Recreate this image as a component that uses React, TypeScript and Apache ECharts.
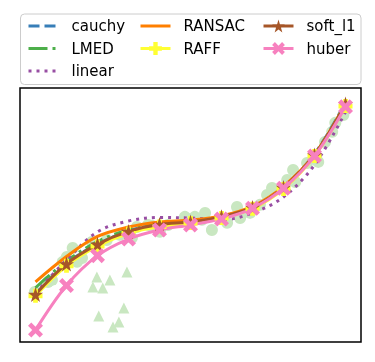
import React, { useEffect, useRef } from "react";
import * as echarts from "echarts";

// x positions of the fitted curves
const xs = [0, 1, 2, 3, 4, 5, 6, 7, 8, 9, 10];

// fitted model values
const cauchy = [1.58, 2.9, 3.74, 4.3, 4.6, 4.72, 4.94, 5.35, 6.22, 7.65, 9.85];
const lmed = [1.85, 3.0, 3.85, 4.35, 4.62, 4.75, 4.93, 5.33, 6.2, 7.6, 9.8];
const linear = [1.62, 3.05, 4.27, 4.74, 4.89, 4.87, 4.79, 5.09, 5.78, 7.17, 9.46];
const ransac = [2.1, 3.2, 4.07, 4.48, 4.7, 4.78, 4.96, 5.37, 6.24, 7.62, 9.83];
const raff = [1.5, 2.8, 3.65, 4.2, 4.5, 4.65, 4.87, 5.27, 6.13, 7.55, 9.72];
const softL1 = [1.56, 2.88, 3.73, 4.29, 4.59, 4.7, 4.92, 5.33, 6.19, 7.6, 9.81];
const huber = [0.02, 1.95, 3.24, 3.96, 4.35, 4.57, 4.83, 5.29, 6.16, 7.56, 9.69];

// observed data (inliers)
const inlierX = [-0.02, 0.4, 0.53, 0.88, 1.01, 1.2, 1.34, 1.5, 1.82, 2.3, 2.72, 3.11, 3.27, 3.63, 3.76, 4.01, 4.27, 4.82, 5.14, 5.37, 5.47, 5.69, 6.18, 6.5, 6.6, 6.92, 7.24, 7.47, 7.63, 8.12, 8.38, 8.31, 8.76, 9.12, 9.34, 9.57, 9.67, 9.93];
const inlierY = [1.67, 2.1, 2.19, 2.97, 3.18, 3.57, 2.97, 3.14, 3.83, 3.92, 4.14, 4.01, 4.48, 4.57, 4.53, 4.27, 4.57, 4.92, 4.92, 4.79, 5.09, 4.35, 4.66, 5.35, 4.87, 5.09, 5.44, 5.87, 6.17, 6.52, 6.43, 6.95, 7.25, 7.3, 8.16, 8.6, 8.99, 9.33];

// outliers
const outlierX = [1.98, 2.4, 1.85, 2.17, 2.95, 2.04, 2.85, 2.5, 2.69];
const outlierY = [2.32, 2.19, 1.88, 1.84, 2.53, 0.63, 0.97, 0.15, 0.37];

const STAR = "path://M50,0 L61,35 L98,35 L68,57 L79,91 L50,70 L21,91 L32,57 L2,35 L39,35 Z";
const PLUS = "path://M33,0 H67 V33 H100 V67 H67 V100 H33 V67 H0 V33 H33 Z";
const XMARK = "path://M22,0 L50,28 L78,0 L100,22 L72,50 L100,78 L78,100 L50,72 L22,100 L0,78 L28,50 L0,22 Z";

const FONT = "DejaVu Sans";

function pairs(a: number[], b: number[]) {
  return a.map((v, i) => [v, b[i]]);
}

function lineSeries(name: string, ys: number[], color: string, type: any, symbol: string, size: number) {
  return {
    name,
    type: "line",
    data: pairs(xs, ys),
    smooth: 0.35,
    symbol,
    symbolSize: size,
    showSymbol: symbol !== "none",
    itemStyle: { color },
    lineStyle: { color, width: 3, type },
    emphasis: { disabled: true },
  };
}

const plain = (name: string) => ({ name, itemStyle: { opacity: 0 } });

export default function App() {
  const ref = useRef<HTMLDivElement>(null);
  useEffect(() => {
    document.body.style.margin = "0";
    const chart = echarts.init(ref.current!, null, { renderer: "svg" });
    const legendBase = {
      orient: "vertical",
      top: 18,
      padding: 0,
      itemWidth: 30,
      itemHeight: 16,
      itemGap: 6.5,
      lineStyle: { width: 3 },
      textStyle: { fontFamily: FONT, fontSize: 15, color: "#000", lineHeight: 16, padding: [0, 0, 0, 8] },
      selectedMode: false,
    };
    chart.setOption({
      animation: false,
      graphic: [
        {
          type: "rect",
          shape: { x: 20.5, y: 14, width: 340.5, height: 70.5, r: 4 },
          style: { fill: "#fff", stroke: "#cccccc", lineWidth: 1 },
          z: -1,
        },
      ],
      legend: [
        { ...legendBase, left: 27, data: [plain("cauchy"), plain("LMED"), plain("linear")] },
        { ...legendBase, left: 139, data: [plain("RANSAC"), "RAFF"] },
        { ...legendBase, left: 262, data: ["soft_l1", "huber"] },
      ],
      grid: {
        left: 20,
        top: 88,
        width: 341,
        height: 254,
        show: true,
        borderColor: "#000",
        borderWidth: 1.5,
        backgroundColor: "#fff",
      },
      xAxis: { type: "value", min: -0.5, max: 10.5, show: false },
      yAxis: { type: "value", min: -0.5, max: 10.5, show: false },
      series: [
        {
          name: "data",
          type: "scatter",
          data: pairs(inlierX, inlierY),
          symbol: "circle",
          symbolSize: 12,
          itemStyle: { color: "#c9e7c1", opacity: 1 },
          emphasis: { disabled: true },
        },
        {
          name: "outliers",
          type: "scatter",
          data: pairs(outlierX, outlierY),
          symbol: "triangle",
          symbolSize: 11,
          itemStyle: { color: "#c9e7c1", opacity: 1 },
          emphasis: { disabled: true },
        },
        lineSeries("cauchy", cauchy, "#377eb8", [11, 5], "none", 0),
        lineSeries("LMED", lmed, "#4daf4a", [19, 5, 3, 5], "none", 0),
        lineSeries("linear", linear, "#984ea3", [3, 5], "none", 0),
        lineSeries("RANSAC", ransac, "#ff7f00", "solid", "none", 0),
        lineSeries("RAFF", raff, "#ffff33", "solid", PLUS, 14),
        lineSeries("soft_l1", softL1, "#a65628", "solid", STAR, 15),
        lineSeries("huber", huber, "#f781bf", "solid", XMARK, 15),
      ],
    });
    return () => chart.dispose();
  }, []);
  return <div ref={ref} style={{ position: "fixed", left: 0, top: 0, width: 375, height: 362 }} />;
}
